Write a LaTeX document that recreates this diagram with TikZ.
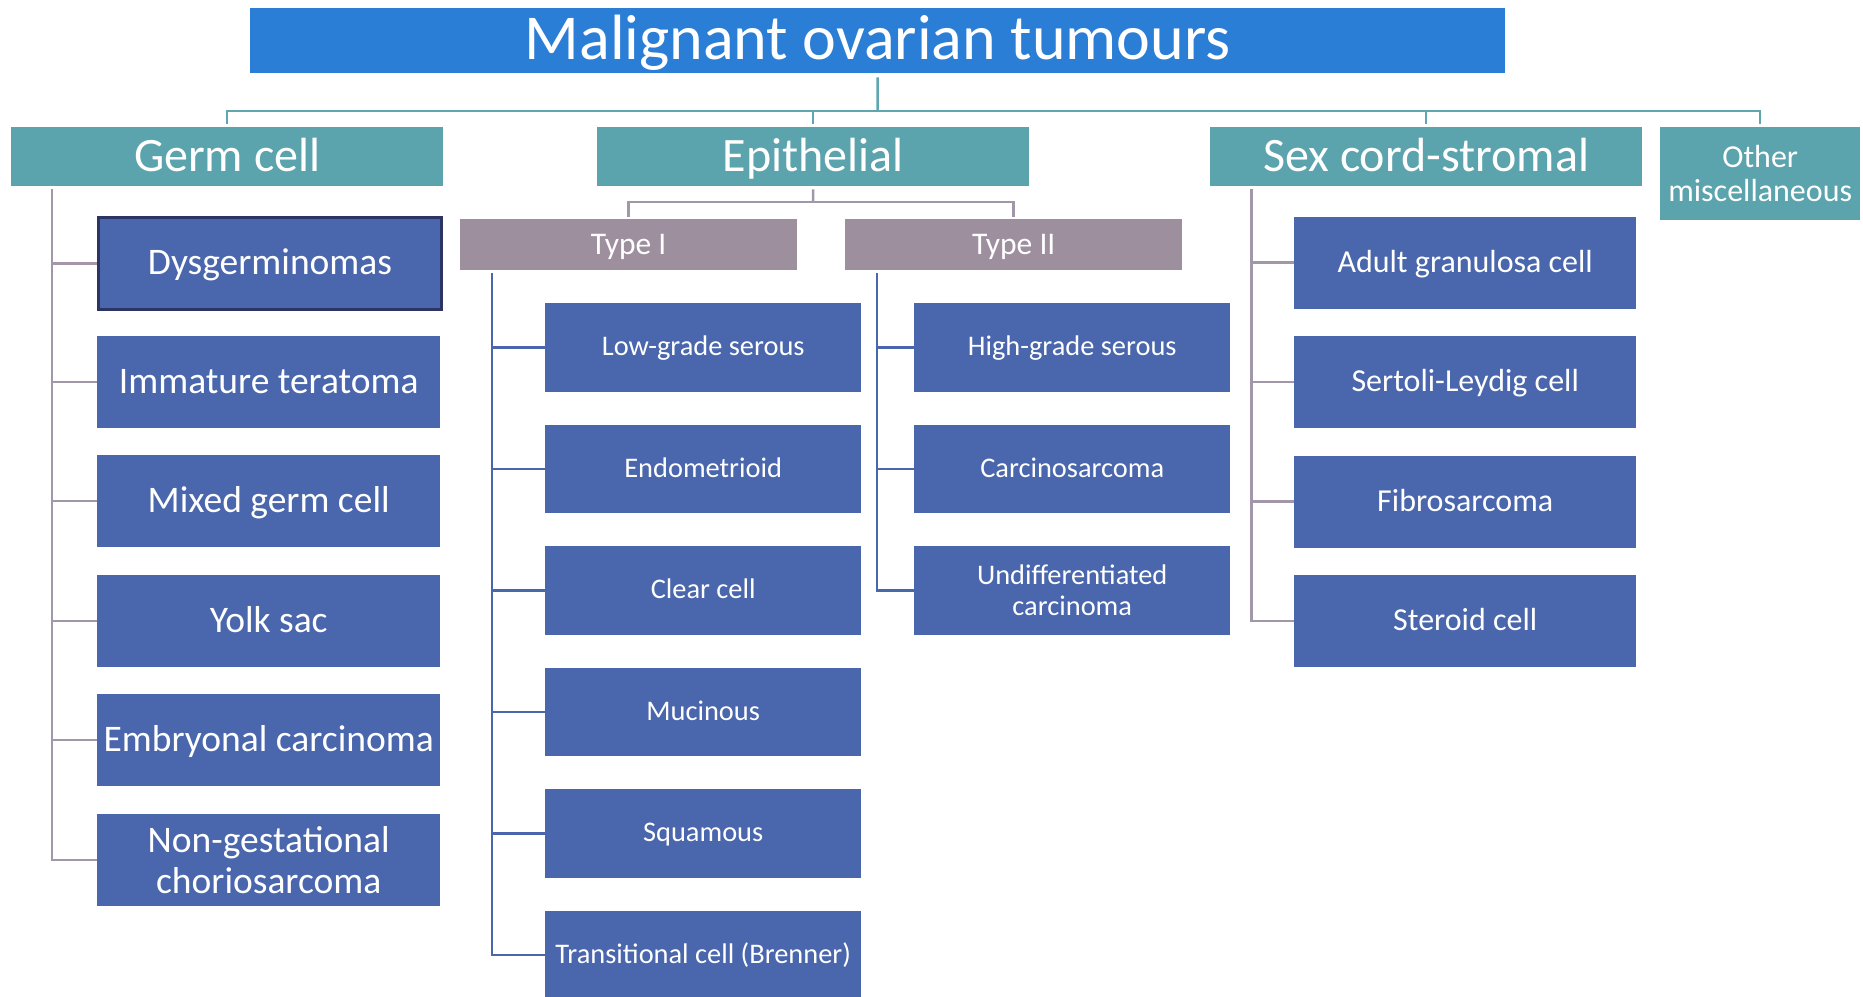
\documentclass[tikz,border=0pt]{standalone}
\usepackage{fontspec}
\setmainfont{Carlito}
\definecolor{titleblue}{HTML}{2B7ED6}
\definecolor{tealbox}{HTML}{5BA3AD}
\definecolor{tealline}{HTML}{5FA7B0}
\definecolor{mauvebox}{HTML}{9E8F9F}
\definecolor{mauveline}{HTML}{A197A8}
\definecolor{leafblue}{HTML}{4A66AC}
\definecolor{darkborder}{HTML}{2B3463}
\tikzset{
  base/.style={anchor=north west, inner sep=0pt, text=white, align=center},
  titlebox/.style={base, fill=titleblue, minimum width=1255pt, minimum height=65pt, font=\fontsize{64}{74}\selectfont, text height=51.2pt, text depth=12.8pt},
  headbox/.style={base, fill=tealbox, minimum width=432pt, minimum height=59pt, font=\fontsize{48}{56}\selectfont, text height=38.4pt, text depth=9.6pt},
  otherbox/.style={base, fill=tealbox, minimum width=200pt, minimum height=93pt, font=\fontsize{32}{34.5}\selectfont},
  typebox/.style={base, fill=mauvebox, minimum width=337pt, minimum height=51pt, font=\fontsize{31.5}{36}\selectfont, text height=25.2pt, text depth=6.3pt},
  germleaf/.style={base, fill=leafblue, minimum width=343pt, minimum height=92pt, font=\fontsize{37.5}{41.5}\selectfont},
  germone/.style={germleaf, text height=30pt, text depth=7.5pt},
  epileaf/.style={base, fill=leafblue, minimum width=316pt, minimum height=88.5pt, font=\fontsize{28.4}{31}\selectfont},
  epione/.style={epileaf, text height=22.7pt, text depth=5.7pt},
  sexleaf/.style={base, fill=leafblue, minimum width=342pt, minimum height=92pt, font=\fontsize{32}{36}\selectfont, text height=25.6pt, text depth=6.4pt},
  tline/.style={draw=tealline, line width=2.5pt},
  mline/.style={draw=mauveline, line width=2.5pt},
  bline/.style={draw=leafblue, line width=2.5pt},
}
\begin{document}
\begin{tikzpicture}[x=1pt,y=-1pt]
\useasboundingbox[fill=white] (0,0) rectangle (1863,996);
% title and headers
\node[titlebox] (title) at (250,8) {Malignant ovarian tumours};
\node[headbox] (germ) at (11,127) {Germ cell};
\node[headbox] (epi) at (597,127) {Epithelial};
\node[headbox] (sex) at (1210,127) {Sex cord-stromal};
\node[otherbox] (other) at (1660,127) {Other\\miscellaneous};
% epithelial types
\node[typebox] (t1) at (460,219) {Type I};
\node[typebox] (t2) at (845,219) {Type II};
% germ cell leaves
\node[germone, draw=darkborder, line width=3pt] (g1) at (97,216) {Dysgerminomas};
\node[germone] (g2) at (97,336) {Immature teratoma};
\node[germone] (g3) at (97,455) {Mixed germ cell};
\node[germone] (g4) at (97,575) {Yolk sac};
\node[germone] (g5) at (97,694) {Embryonal carcinoma};
\node[germleaf] (g6) at (97,814) {Non-gestational\\choriosarcoma};
% type I leaves
\node[epione] (a1) at (545,303) {Low-grade serous};
\node[epione] (a2) at (545,424.5) {Endometrioid};
\node[epione] (a3) at (545,546) {Clear cell};
\node[epione] (a4) at (545,667.5) {Mucinous};
\node[epione] (a5) at (545,789) {Squamous};
\node[epione] (a6) at (545,910.5) {Transitional cell (Brenner)};
% type II leaves
\node[epione] (b1) at (914,303) {High-grade serous};
\node[epione] (b2) at (914,424.5) {Carcinosarcoma};
\node[epileaf] (b3) at (914,546) {Undifferentiated\\carcinoma};
% sex cord leaves
\node[sexleaf] (s1) at (1294,216.5) {Adult granulosa cell};
\node[sexleaf] (s2) at (1294,336) {Sertoli-Leydig cell};
\node[sexleaf] (s3) at (1294,455.5) {Fibrosarcoma};
\node[sexleaf] (s4) at (1294,575) {Steroid cell};
% connectors: title to headers
\coordinate (bus) at (877.5,111);
\draw[tline] ([yshift=-4pt]title.south) -- (bus);
\foreach \h in {germ,epi,sex,other}{
  \draw[tline] (bus) -| ([yshift=3pt]\h.north);
}
% epithelial to types
\coordinate (ebus) at (813,202);
\draw[mline] ([yshift=-3pt]epi.south) -- (ebus);
\draw[mline] (ebus) -| ([yshift=2pt]t1.north);
\draw[mline] (ebus) -| ([yshift=2pt]t2.north);
% germ cell leaves
\coordinate (gtop) at (52,189);
\foreach \n in {g1,g2,g3,g4,g5,g6}{
  \draw[mline] (gtop) |- (\n.west);
}
% type I leaves
\coordinate (atop) at (492,273);
\foreach \n in {a1,a2,a3,a4,a5,a6}{
  \draw[bline] (atop) |- (\n.west);
}
% type II leaves
\coordinate (btop) at (877,273);
\foreach \n in {b1,b2,b3}{
  \draw[bline] (btop) |- (\n.west);
}
% sex cord leaves
\coordinate (stop) at (1251.5,189);
\foreach \n in {s1,s2,s3,s4}{
  \draw[mline] (stop) |- (\n.west);
}
\end{tikzpicture}
\end{document}
